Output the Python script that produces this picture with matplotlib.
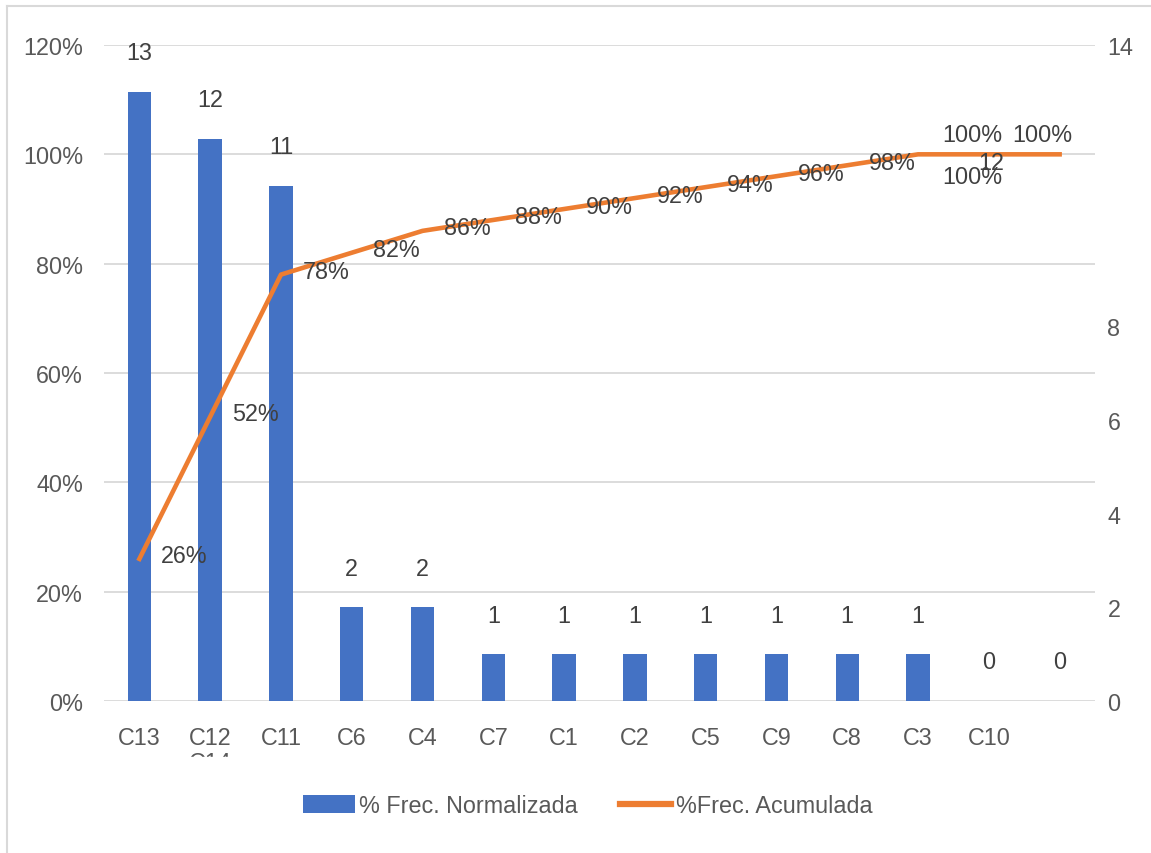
import numpy as np
import matplotlib.pyplot as plt
from matplotlib.lines import Line2D
from matplotlib.ticker import PercentFormatter

plt.rcParams['font.family'] = ['Liberation Sans', 'DejaVu Sans']

# data
categories = ['C13', 'C12\nC14', 'C11', 'C6', 'C4', 'C7', 'C1', 'C2', 'C5', 'C9', 'C8', 'C3', 'C10', '']
counts = [13, 12, 11, 2, 2, 1, 1, 1, 1, 1, 1, 1, 0, 0]
cum_pct = [0.26, 0.52, 0.78, 0.82, 0.86, 0.88, 0.90, 0.92, 0.94, 0.96, 0.98, 1.00, 1.00, 1.00]
right_ticks = [0, 2, 4, 6, 8, 14]

# label offsets in pixels (dx, dy) for the cumulative labels
cum_offsets = [(45, 3)] * 11 + [(54, -22), (-17, 20), (-17, 20)]

blue = '#4472C4'
orange = '#ED7D31'
txt = '#404040'
tick_c = '#595959'
fs = 16.8
px = 72 / 100  # pixels -> points at dpi 100

fig = plt.figure(figsize=(11.51, 8.54), dpi=100)
ax = fig.add_axes([104 / 1151, 152 / 854, (1095 - 104) / 1151, (808 - 152) / 854])
ax2 = ax.twinx()

x = np.arange(len(categories))

# left axis: percentages and gridlines
ax.set_ylim(0, 1.2)
ax.set_yticks(np.arange(0, 1.21, 0.2))
ax.yaxis.set_major_formatter(PercentFormatter(1.0, decimals=0))
ax.grid(axis='y', color='#D9D9D9', lw=1.3)
ax.set_axisbelow(True)
ax.set_xlim(-0.5, len(categories) - 0.5)
ax.set_xticks(x)
ax.set_xticklabels(categories, fontsize=fs, color=tick_c, linespacing=1.1)
ax.tick_params(axis='x', length=0, pad=18)
ax.tick_params(axis='y', length=0, pad=15, labelsize=fs, labelcolor=tick_c)

# right axis: counts
bars = ax2.bar(x, counts, width=0.33, color=blue, zorder=2)
ax2.set_ylim(0, 14)
ax2.set_yticks(right_ticks)
ax2.tick_params(axis='y', length=0, pad=9, labelsize=fs, labelcolor=tick_c)

for a in (ax, ax2):
    for s in a.spines.values():
        s.set_visible(False)

for xi, c in zip(x, counts):
    ax2.annotate(str(c), (xi, c), xytext=(0, 39 * px), textcoords='offset points',
                 ha='center', va='center', fontsize=fs, color=txt)

# cumulative line drawn above the bars, in left-axis units
ax2.plot(x, cum_pct, color=orange, lw=3.3, transform=ax.transData, zorder=3,
         solid_joinstyle='round', clip_on=False)
for xi, v, (dx, dy) in zip(x, cum_pct, cum_offsets):
    ax2.annotate(f'{v:.0%}', (xi, v), xycoords=ax.transData, xytext=(dx * px, dy * px),
                 textcoords='offset points', ha='center', va='center', fontsize=fs, color=txt,
                 zorder=4)
# stray label sitting on the line near C10
ax2.annotate('12', (x[12], cum_pct[12]), xycoords=ax.transData, xytext=(2 * px, -8 * px),
             textcoords='offset points', ha='center', va='center', fontsize=fs, color=txt,
             zorder=4)

# second line of the C12 label is clipped in the original
fig.add_artist(plt.Rectangle((170 / 1151, 0.08), 80 / 1151, (854 - 758) / 854 - 0.08,
                             transform=fig.transFigure, color='white', zorder=5))

handles = [bars, Line2D([0], [0], color=orange, lw=4.5)]
fig.legend(handles, ['% Frec. Normalizada', '%Frec. Acumulada'], loc='center',
           bbox_to_anchor=(588 / 1151, 1 - 807 / 854), ncol=2, frameon=False, fontsize=fs,
           handlelength=2.2, handleheight=0.82, handletextpad=0.2, columnspacing=1.8,
           labelcolor=tick_c)

# chart border (left and top visible)
fig.add_artist(Line2D([7 / 1151, 7 / 1151], [0, 1 - 7 / 854], transform=fig.transFigure,
                      color='#D9D9D9', lw=1.5))
fig.add_artist(Line2D([7 / 1151, 1], [1 - 7 / 854, 1 - 7 / 854], transform=fig.transFigure,
                      color='#D9D9D9', lw=1.5))

fig.savefig('out.png', dpi=100)
